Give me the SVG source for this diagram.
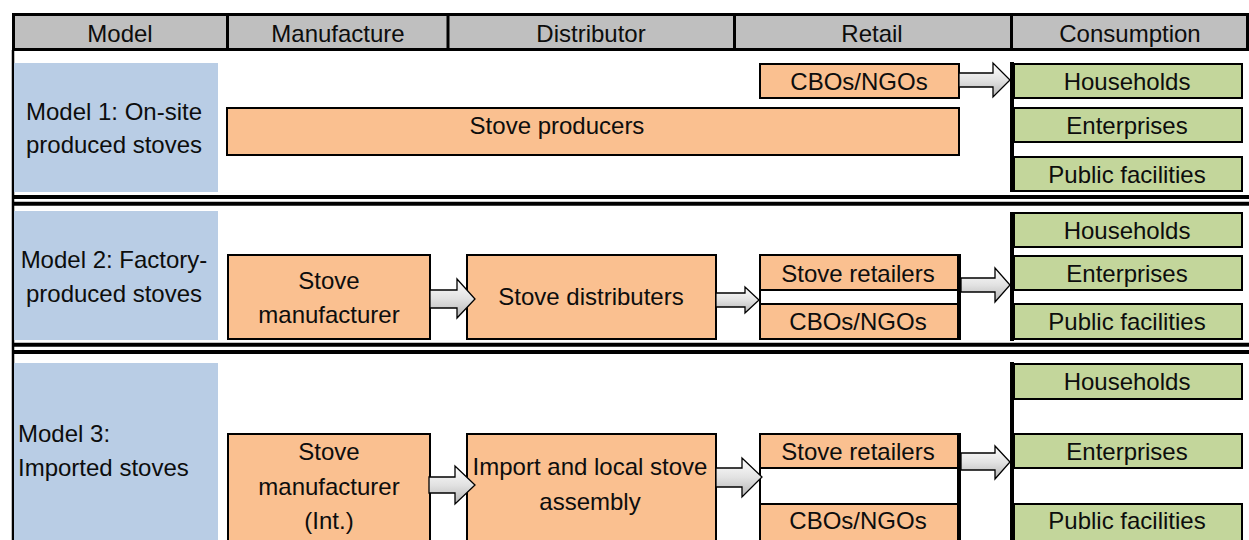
<svg xmlns="http://www.w3.org/2000/svg" width="1249" height="540" viewBox="0 0 1249 540">
<style>
text{font-family:"Liberation Sans",Arial,sans-serif;font-size:24px;fill:#0d0d0d;text-anchor:middle}
.l{text-anchor:start}
.hdr{fill:#bfbfbf;stroke:#000;stroke-width:3}
.blue{fill:#b9cde5}
.or{fill:#fac090;stroke:#000;stroke-width:2}
.gr{fill:#c3d69b;stroke:#000;stroke-width:2}
.wh{fill:#fff;stroke:#000;stroke-width:2}
.bar{stroke:#000;stroke-width:4}
.sep{stroke:#000;stroke-width:4}
.arr{fill:url(#ag);stroke:#000;stroke-width:1.3;stroke-linejoin:miter}
</style>
<defs>
<linearGradient id="ag" x1="0" y1="0" x2="0" y2="1">
<stop offset="0" stop-color="#ffffff"/>
<stop offset="0.5" stop-color="#e2e2e2"/>
<stop offset="1" stop-color="#b5b5b5"/>
</linearGradient>
</defs>
<rect width="1249" height="540" fill="#fff"/>

<g id="header">
<rect class="hdr" x="13.5" y="14.5" width="1234" height="35"/>
<line x1="227.5" y1="15" x2="227.5" y2="50" stroke="#000" stroke-width="3"/>
<line x1="448" y1="15" x2="448" y2="50" stroke="#000" stroke-width="3"/>
<line x1="734.5" y1="15" x2="734.5" y2="50" stroke="#000" stroke-width="3"/>
<line x1="1011.5" y1="15" x2="1011.5" y2="50" stroke="#000" stroke-width="3"/>
<text x="120" y="42">Model</text>
<text x="338" y="42">Manufacture</text>
<text x="591" y="42">Distributor</text>
<text x="872" y="42">Retail</text>
<text x="1130" y="42">Consumption</text>
</g>

<g id="frame">
<line x1="13" y1="50" x2="13" y2="540" stroke="#000" stroke-width="2.5"/>
<line class="sep" x1="12" y1="197" x2="1249" y2="197"/>
<line class="sep" x1="12" y1="203.7" x2="1249" y2="203.7"/>
<line class="sep" x1="12" y1="344.7" x2="1249" y2="344.7"/>
<line class="sep" x1="12" y1="352" x2="1249" y2="352"/>
</g>

<!-- Model 1 -->
<g id="m1-label">
<rect class="blue" x="14" y="63" width="204" height="129"/>
<text x="114" y="120">Model 1: On-site</text>
<text x="114" y="153">produced stoves</text>
</g>
<g id="m1-producers">
<rect class="or" x="227" y="108" width="732" height="47"/>
<text x="557" y="134">Stove producers</text>
</g>
<g id="m1-cbos">
<rect class="or" x="760" y="64" width="199" height="34"/>
<text x="859" y="90">CBOs/NGOs</text>
</g>
<g id="m1-consumption">
<rect class="gr" x="1014" y="64" width="228" height="34"/>
<text x="1127" y="90">Households</text>
<rect class="gr" x="1014" y="108" width="228" height="34"/>
<text x="1127" y="134">Enterprises</text>
<rect class="gr" x="1014" y="157" width="228" height="34"/>
<text x="1127" y="183">Public facilities</text>
<line class="bar" x1="1012" y1="62" x2="1012" y2="192"/>
</g>

<!-- Model 2 -->
<g id="m2-label">
<rect class="blue" x="14" y="211" width="204" height="129"/>
<text x="114" y="268">Model 2: Factory-</text>
<text x="114" y="302">produced stoves</text>
</g>
<g id="m2-manufacturer">
<rect class="or" x="228" y="255" width="202" height="84"/>
<text x="329" y="289">Stove</text>
<text x="329" y="323">manufacturer</text>
</g>
<g id="m2-distributers">
<rect class="or" x="467" y="255" width="249" height="84"/>
<text x="591" y="305">Stove distributers</text>
</g>
<g id="m2-retail">
<rect class="wh" x="760" y="255" width="199" height="84"/>
<rect class="or" x="760" y="255" width="199" height="35"/>
<text x="858" y="282">Stove retailers</text>
<rect class="or" x="760" y="304" width="199" height="35"/>
<text x="858" y="330">CBOs/NGOs</text>
<line class="bar" x1="959" y1="254" x2="959" y2="340"/>
</g>
<g id="m2-consumption">
<rect class="gr" x="1014" y="213" width="228" height="34"/>
<text x="1127" y="239">Households</text>
<rect class="gr" x="1014" y="256" width="228" height="34"/>
<text x="1127" y="282">Enterprises</text>
<rect class="gr" x="1014" y="304" width="228" height="35"/>
<text x="1127" y="330">Public facilities</text>
<line class="bar" x1="1012" y1="212" x2="1012" y2="341"/>
</g>

<!-- Model 3 -->
<g id="m3-label">
<rect class="blue" x="14" y="363" width="204" height="177"/>
<text class="l" x="18" y="442">Model 3:</text>
<text class="l" x="18" y="476">Imported stoves</text>
</g>
<g id="m3-manufacturer">
<rect class="or" x="228" y="434" width="202" height="112"/>
<text x="329" y="460">Stove</text>
<text x="329" y="495">manufacturer</text>
<text x="329" y="529">(Int.)</text>
</g>
<g id="m3-assembly">
<rect class="or" x="467" y="434" width="249" height="112"/>
<text x="590" y="475">Import and local stove</text>
<text x="590" y="510">assembly</text>
</g>
<g id="m3-retail">
<rect class="wh" x="760" y="434" width="199" height="112"/>
<rect class="or" x="760" y="434" width="199" height="34"/>
<text x="858" y="460">Stove retailers</text>
<rect class="or" x="760" y="504" width="199" height="42"/>
<text x="858" y="529">CBOs/NGOs</text>
<line class="bar" x1="959" y1="433" x2="959" y2="540"/>
</g>
<g id="m3-consumption">
<rect class="gr" x="1014" y="364" width="228" height="35"/>
<text x="1127" y="390">Households</text>
<rect class="gr" x="1014" y="434" width="228" height="34"/>
<text x="1127" y="460">Enterprises</text>
<rect class="gr" x="1014" y="504" width="228" height="42"/>
<text x="1127" y="529">Public facilities</text>
<line class="bar" x1="1012" y1="362" x2="1012" y2="540"/>
</g>

<g id="connectors">
<path class="arr" d="M959,73 H993 V63 L1010,80 L993,97 V87 H959 Z"/>
<path class="arr" d="M430,290 H457 V279 L475,299 L457,318 V308 H430 Z"/>
<path class="arr" d="M716,293 H745 V287 L759,300 L745,313 V307 H716 Z"/>
<path class="arr" d="M961,278 H995 V268 L1010,285 L995,302 V292 H961 Z"/>
<path class="arr" d="M429,477 H455 V466 L475,485 L455,504 V493 H429 Z"/>
<path class="arr" d="M716,468 H742 V458 L762,477 L742,497 V487 H716 Z"/>
<path class="arr" d="M961,453 H995 V446 L1010,462 L995,479 V470 H961 Z"/>
</g>
</svg>
